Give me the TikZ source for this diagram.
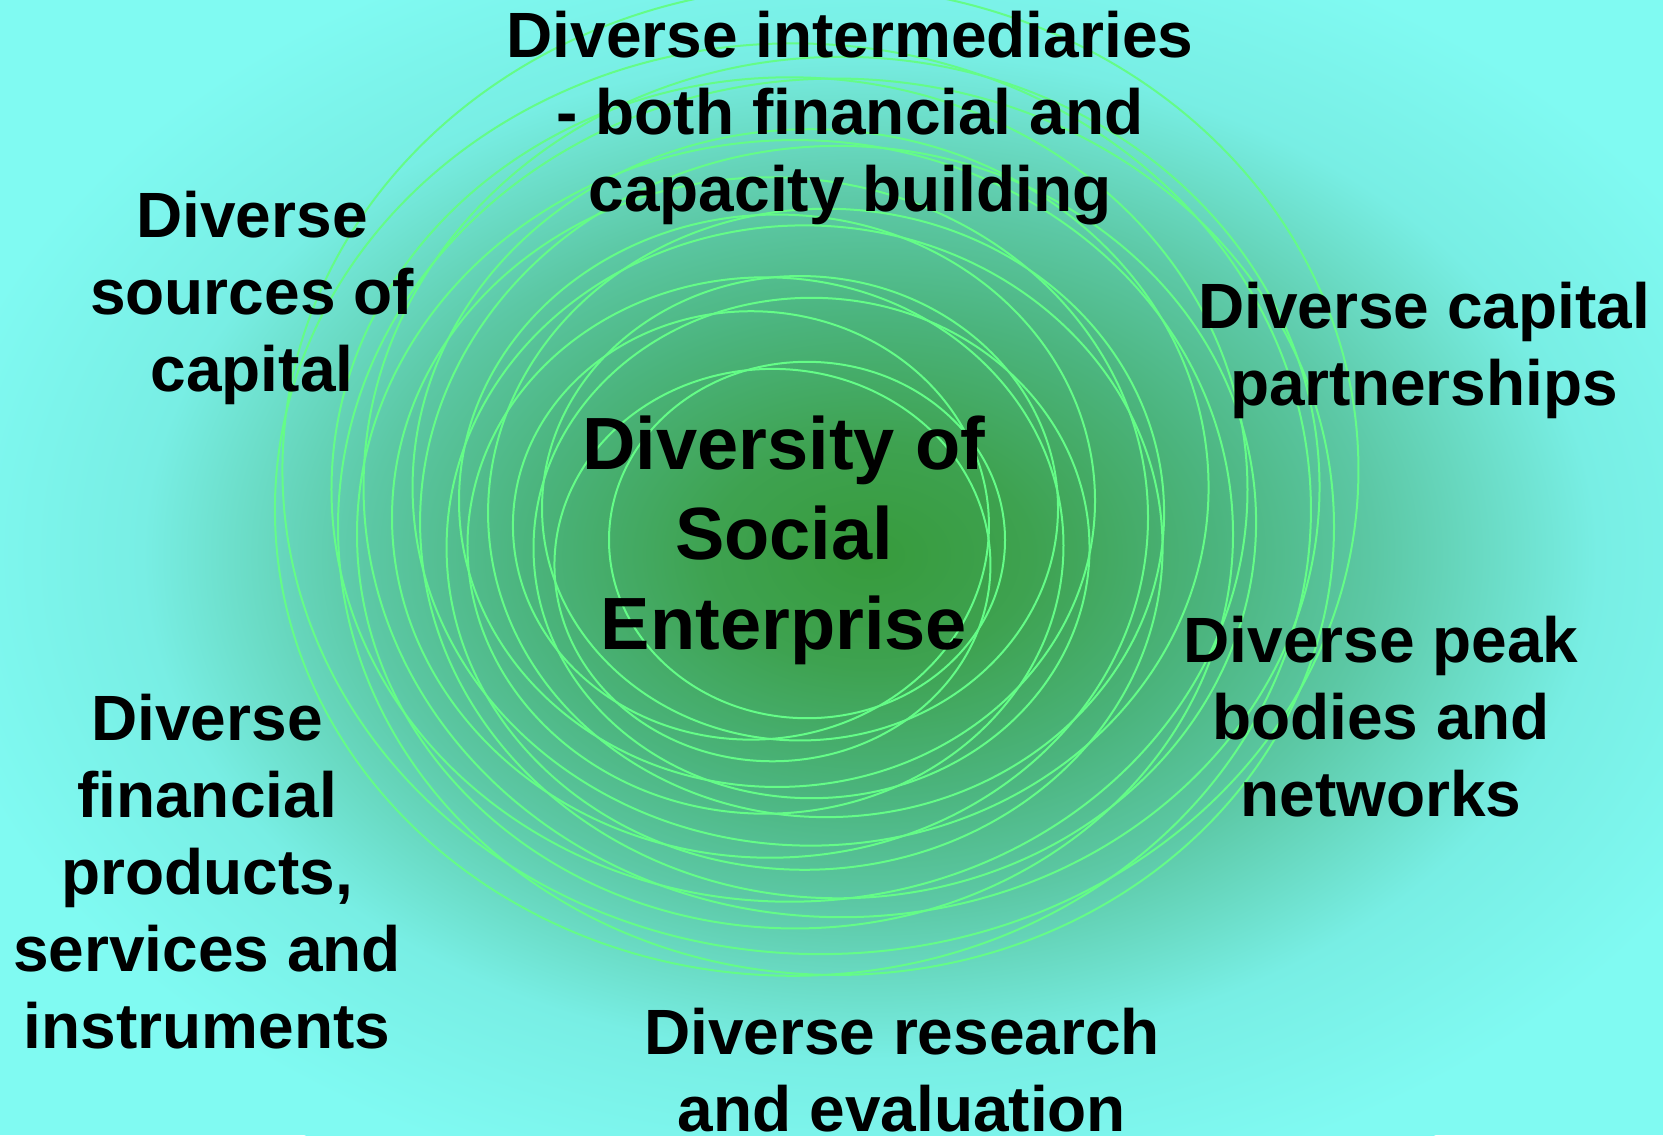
\documentclass[tikz,border=0pt]{standalone}
\usepackage{fontspec}
\setmainfont{Liberation Sans}
\definecolor{bgcyan}{RGB}{128,250,242}
\definecolor{bgouter}{RGB}{120,238,228}
\definecolor{bgmid}{RGB}{92,200,165}
\definecolor{bginner}{RGB}{75,180,125}
\definecolor{bgdeep}{RGB}{62,162,80}
\definecolor{bgcore}{RGB}{55,155,60}
\definecolor{ringgreen}{RGB}{100,252,135}
\pgfdeclareradialshading{bgshade}{\pgfpoint{0bp}{0bp}}{color(0bp)=(bgcore); color(4bp)=(bgdeep); color(8.5bp)=(bginner); color(12.5bp)=(bgmid); color(18bp)=(bgouter); color(23.5bp)=(bgcyan); color(50bp)=(bgcyan)}
\begin{document}
\begin{tikzpicture}[x=0.5pt,y=-0.5pt,
    ring/.style={draw=ringgreen,line width=1pt},
    lbl/.style={align=center,inner sep=0pt,anchor=north,font=\bfseries\fontsize{32}{38.5}\selectfont},
    core/.style={lbl,font=\bfseries\fontsize{37}{45}\selectfont}]
    \clip (0,0) rectangle (1663,1135);
    \fill[bgcyan] (0,0) rectangle (1663,1135);
    \shade[shading=bgshade] (870,555) ellipse [x radius=1010, y radius=700];
    \foreach \i in {0,...,17}
        {\pgfmathsetmacro{\rx}{198+20*\i}
         \pgfmathsetmacro{\ry}{0.9*\rx}
         \pgfmathsetmacro{\cx}{775+3*\i+32*cos(100*\i)}
         \pgfmathsetmacro{\cy}{540-2.5*\i+28*sin(100*\i)}
         \draw[ring] (\cx,\cy) ellipse [x radius=\rx, y radius=\ry];
        }
    \node[lbl] (capital) at (252,191) {Diverse\\sources of\\capital};
    \node[lbl] (interm) at (850,11) {Diverse intermediaries\\- both financial and\\capacity building};
    \node[lbl] (partner) at (1424,282) {Diverse capital\\partnerships};
    \node[core] (diversity) at (784,415) {Diversity of\\Social\\Enterprise};
    \node[lbl] (peak) at (1381,616) {Diverse peak\\bodies and\\networks};
    \node[lbl] (products) at (207,694) {Diverse\\financial\\products,\\services and\\instruments};
    \node[lbl] (research) at (902,1008) {Diverse research\\and evaluation};
\end{tikzpicture}
\end{document}
